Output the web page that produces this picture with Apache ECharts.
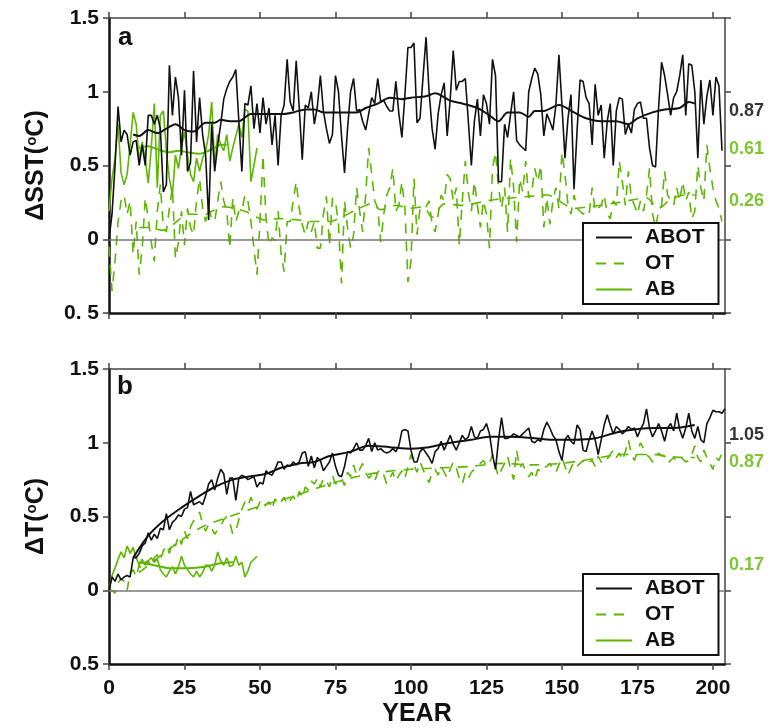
<!DOCTYPE html>
<html><head><meta charset="utf-8">
<script src="https://cdn.jsdelivr.net/npm/echarts@6/dist/echarts.min.js"></script>
<style>html,body{margin:0;padding:0;background:#fff}#c{width:773px;height:728px}</style>
</head><body><div id="c"></div>
<script>
// ---------- tick labels ----------
const xTicks = [0, 25, 50, 75, 100, 125, 150, 175, 200];
const yTicks = [-0.5, 0, 0.5, 1, 1.5];
const yTickLabelsA = ['0. 5', '0', '0.5', '1', '1.5'];
const yTickLabelsB = ['0.5', '0', '0.5', '1', '1.5'];
const seriesNames = ['ABOT', 'OT', 'AB'];

// ---------- panel a : ΔSST (annual values, year 0..) ----------
const abotA = [0.00,0.17,0.50,0.90,0.66,0.74,0.71,0.57,0.66,0.67,0.50,0.64,0.50,0.84,0.84,0.78,0.84,0.75,0.32,0.37,
1.18,0.84,1.10,0.96,0.57,1.01,0.46,0.52,1.14,0.66,0.96,0.71,0.57,0.13,0.78,0.46,0.64,0.78,0.95,1.02,
1.07,1.10,1.15,0.80,0.46,0.92,0.91,1.04,0.75,0.92,0.72,0.96,0.78,0.89,0.64,0.84,0.50,0.84,0.91,1.22,
0.93,0.87,1.21,0.89,0.54,0.91,0.89,1.00,0.78,0.90,1.11,0.87,0.75,0.65,0.71,1.11,1.00,0.70,0.45,0.75,
1.00,1.09,0.87,0.88,0.80,0.74,0.85,0.96,0.92,1.09,0.93,0.94,0.90,0.87,0.87,1.07,0.85,0.69,0.98,1.30,
1.30,1.33,0.79,0.82,1.10,1.37,1.00,0.75,0.61,0.85,0.98,1.06,0.70,0.95,1.28,1.01,1.07,1.07,1.09,0.80,
0.50,0.80,0.95,0.70,0.98,0.92,0.78,1.22,1.11,0.39,0.39,0.78,0.69,0.85,1.00,0.67,0.64,0.62,0.60,1.00,
1.09,1.16,1.12,0.98,0.70,0.85,0.80,0.74,0.91,1.25,0.91,0.55,0.82,0.98,0.34,0.73,1.08,1.07,0.96,0.92,
0.64,1.05,0.84,0.91,0.55,0.80,0.92,0.50,0.87,0.96,0.95,0.71,0.78,0.72,0.88,0.92,0.93,0.82,0.82,0.62,
0.50,0.49,0.89,1.20,1.11,0.98,0.84,0.96,1.00,1.11,1.25,0.84,1.19,1.18,1.00,0.55,1.08,0.78,0.97,1.08,
0.84,1.10,1.04,0.60];
const abotSmoothA = [[8,0.71],[10,0.70],[13,0.74],[16,0.72],[19,0.75],[22,0.78],[25,0.74],[28,0.73],[32,0.79],[35,0.79],
[37,0.81],[40,0.80],[43,0.80],[47,0.85],[50,0.85],[54,0.85],[58,0.85],[61,0.86],[65,0.88],[68,0.88],[71,0.86],[75,0.86],
[78,0.86],[82,0.86],[85,0.89],[89,0.92],[93,0.96],[97,0.95],[100,0.96],[105,0.97],[108,0.99],[113,0.94],[117,0.92],
[122,0.89],[126,0.84],[129,0.80],[132,0.86],[136,0.86],[139,0.83],[141,0.87],[144,0.87],[149,0.91],[154,0.86],[158,0.82],
[163,0.80],[168,0.80],[172,0.78],[175,0.82],[180,0.86],[184,0.88],[189,0.89],[192,0.93],[194,0.92]];
const otA = [-0.05,-0.35,-0.15,0.12,0.26,0.30,0.17,0.26,-0.10,0.12,-0.24,-0.06,0.28,0.14,-0.02,-0.15,0.19,0.37,0.08,0.05,
0.21,0.35,-0.13,-0.02,0.19,-0.04,0.21,0.08,0.03,0.27,0.41,0.21,0.12,0.21,0.14,0.12,0.26,0.39,0.26,0.19,
-0.06,0.28,0.12,0.19,0.19,0.30,0.26,0.12,-0.06,-0.24,0.12,0.57,0.14,-0.04,0.01,-0.01,0.19,-0.10,-0.22,0.12,
0.12,0.26,0.39,0.21,0.10,0.03,0.12,0.05,0.12,-0.06,-0.06,0.17,0.29,-0.04,0.28,0.26,0.10,-0.30,0.26,0.08,
-0.06,0.03,0.35,0.19,0.05,0.30,0.62,0.44,0.26,0.21,-0.02,0.17,0.30,0.35,0.48,0.19,0.23,0.39,0.21,-0.29,
-0.15,0.41,0.03,0.21,0.23,0.22,0.26,0.10,0.05,0.17,0.30,0.26,0.44,0.41,0.26,0.35,-0.04,0.26,0.53,0.32,
0.19,0.39,0.23,0.08,0.26,0.17,-0.06,0.48,0.59,0.35,0.21,0.35,0.05,0.55,0.35,-0.02,0.41,0.32,0.53,0.28,
0.32,0.48,0.39,0.50,0.08,0.28,0.10,0.26,0.35,0.21,0.59,0.44,0.23,0.17,0.30,0.21,0.19,0.17,0.19,0.17,
0.35,0.19,0.21,0.23,0.30,0.17,0.14,0.26,0.23,0.53,0.39,0.23,0.46,0.28,0.23,0.17,0.26,0.19,0.30,0.48,
0.17,0.08,0.19,0.23,0.46,0.30,0.26,0.23,0.35,0.26,0.39,0.26,0.32,0.14,0.19,0.50,0.35,0.26,0.64,0.48,
0.35,0.26,0.21,0.12];
const otSmoothA = [[10,0.08],[13,0.08],[18,0.06],[23,0.13],[26,0.17],[32,0.17],[34,0.19],[38,0.22],[45,0.19],[47,0.17],
[52,0.13],[56,0.14],[63,0.13],[67,0.12],[73,0.12],[77,0.15],[82,0.20],[87,0.24],[90,0.20],[95,0.23],[100,0.21],[104,0.22],
[107,0.15],[111,0.24],[117,0.23],[125,0.26],[128,0.27],[133,0.28],[139,0.29],[145,0.30],[154,0.21],[159,0.22],[163,0.23],
[169,0.25],[178,0.28],[182,0.21],[186,0.27],[191,0.30],[194,0.30]];
const abA = [0.19,0.41,0.55,0.78,0.45,0.37,0.44,0.64,0.86,0.78,0.53,0.66,0.54,0.38,0.62,0.92,0.35,0.84,0.87,0.60,
0.41,0.30,0.57,0.48,0.62,0.73,0.57,0.44,0.39,0.55,0.46,0.55,0.60,0.71,0.93,0.50,0.71,0.64,0.60,0.71,
0.53,0.62,0.70,0.78,0.69,0.88,0.87,0.39,0.50,0.62];
const abSmoothA = [[10,0.62],[13,0.63],[16,0.61],[20,0.59],[23,0.60],[26,0.59],[30,0.58],[33,0.60],[35,0.62],[37,0.64],[39,0.64]];
const meanA = [0.87, 0.61, 0.26];           // ABOT, AB, OT

// ---------- panel b : ΔT ----------
const abotB = [0.00,0.09,0.06,0.11,0.07,0.09,0.10,0.09,0.22,0.22,0.25,0.30,0.32,0.39,0.34,0.38,0.35,0.42,0.41,0.52,
0.41,0.46,0.48,0.51,0.50,0.55,0.56,0.67,0.58,0.59,0.60,0.58,0.64,0.72,0.75,0.68,0.76,0.82,0.79,0.65,
0.76,0.76,0.61,0.76,0.78,0.77,0.75,0.76,0.77,0.70,0.73,0.72,0.81,0.79,0.78,0.82,0.87,0.87,0.82,0.85,
0.84,0.87,0.85,0.87,0.93,0.94,0.84,0.91,0.83,0.90,0.88,0.81,0.84,0.87,0.93,0.84,0.78,0.77,0.84,0.94,
0.93,0.96,1.00,0.95,0.95,0.98,1.03,0.94,1.00,0.95,0.96,0.94,0.93,0.94,0.96,0.94,0.98,1.08,1.09,1.08,
0.95,0.87,0.87,0.94,0.96,0.93,0.90,0.86,0.94,0.96,1.01,0.95,1.00,1.05,0.99,0.95,1.00,1.05,1.02,1.04,
1.11,1.04,1.03,1.08,1.09,1.13,1.06,0.92,0.82,1.02,1.17,1.03,1.03,1.04,1.06,1.05,1.04,1.06,1.08,1.10,
1.01,1.00,1.02,1.01,1.09,1.14,1.10,1.05,1.02,0.94,0.88,1.02,1.05,1.01,0.99,1.12,1.09,0.95,0.94,1.02,
1.08,1.02,0.92,1.02,1.12,1.19,1.12,1.06,1.11,1.09,1.06,1.08,1.11,1.09,1.10,1.04,1.09,1.13,1.23,1.10,
1.04,1.08,1.13,1.08,1.01,1.10,1.13,1.08,1.20,1.09,1.03,1.10,1.20,1.08,1.03,1.11,1.02,1.00,1.13,1.17,
1.22,1.21,1.21,1.20,1.23];
const abotSmoothB = [[8,0.22],[13,0.37],[18,0.47],[24,0.56],[30,0.64],[35,0.70],[41,0.75],[46,0.77],[52,0.79],[57,0.83],
[63,0.86],[68,0.87],[73,0.91],[80,0.94],[86,0.98],[93,0.97],[100,0.96],[106,0.97],[113,1.00],[120,1.02],[126,1.04],
[133,1.04],[141,1.03],[148,1.02],[154,1.02],[161,1.03],[168,1.07],[174,1.09],[181,1.10],[187,1.10],[194,1.12]];
const otB = [0.00,0.00,-0.02,0.05,0.08,0.06,0.00,0.12,0.14,0.09,0.17,0.14,0.19,0.20,0.16,0.22,0.24,0.20,0.27,0.30,
0.25,0.33,0.30,0.37,0.31,0.40,0.35,0.43,0.47,0.50,0.53,0.45,0.40,0.45,0.42,0.38,0.41,0.43,0.48,0.50,
0.46,0.38,0.40,0.48,0.55,0.60,0.57,0.63,0.58,0.55,0.60,0.56,0.58,0.60,0.55,0.62,0.58,0.60,0.63,0.58,
0.61,0.64,0.60,0.67,0.63,0.70,0.68,0.74,0.72,0.76,0.70,0.76,0.74,0.70,0.78,0.72,0.74,0.76,0.71,0.80,
0.77,0.85,0.78,0.82,0.86,0.80,0.76,0.78,0.74,0.80,0.82,0.78,0.72,0.76,0.80,0.74,0.78,0.81,0.76,0.84,
0.92,0.85,0.80,0.87,0.82,0.77,0.73,0.80,0.82,0.78,0.84,0.80,0.76,0.82,0.87,0.83,0.76,0.72,0.80,0.76,
0.80,0.82,0.83,0.86,0.88,0.84,0.86,0.92,0.84,0.77,0.82,0.86,0.91,0.82,0.75,0.95,0.83,0.86,0.80,0.77,
0.80,0.75,0.82,0.80,0.83,0.84,0.86,0.82,0.80,0.85,0.90,0.84,0.78,0.83,0.87,0.84,0.86,0.88,0.85,0.87,
0.88,0.84,0.91,0.87,0.86,0.89,0.92,0.95,0.90,0.93,0.88,0.94,1.02,0.92,0.88,0.94,1.00,0.96,0.92,0.90,
0.87,0.90,0.93,0.91,0.91,0.86,0.88,0.90,0.88,0.91,0.89,0.87,0.88,0.92,0.98,0.90,0.87,0.95,0.90,0.86,
0.82,0.90,0.88,0.93];
const otSmoothB = [[10,0.12],[20,0.28],[30,0.42],[40,0.50],[50,0.57],[60,0.63],[70,0.70],[80,0.76],[90,0.80],[100,0.82],
[110,0.83],[120,0.84],[130,0.86],[140,0.85],[150,0.86],[160,0.89],[170,0.92],[180,0.92],[190,0.90],[194,0.90]];
const abB = [0.00,0.10,0.15,0.21,0.26,0.22,0.30,0.25,0.29,0.22,0.17,0.21,0.17,0.20,0.22,0.19,0.21,0.14,0.11,0.09,
0.13,0.16,0.11,0.16,0.23,0.17,0.14,0.11,0.09,0.13,0.09,0.12,0.17,0.17,0.13,0.17,0.26,0.20,0.17,0.22,
0.16,0.17,0.23,0.17,0.19,0.09,0.13,0.19,0.21,0.23];
const abSmoothB = [[10,0.19],[15,0.17],[20,0.15],[26,0.15],[32,0.16],[36,0.18],[41,0.19]];
const meanB = [1.05, 0.87, 0.17];           // ABOT, OT, AB

// ---------- styling ----------
const FONT = '"Liberation Sans", Arial, sans-serif';
const BLACK = '#111111';
const TXT = '#111111';
const GREEN = '#5db600';
const XMAX = 204;

const annual = arr => arr.map((v, i) => [i, v]);

function gridAxes(gi, showX) {
  return [
    { type: 'value', gridIndex: gi, position: 'bottom', min: 0, max: XMAX,
      axisLine: { onZero: false, lineStyle: { color: BLACK, width: 2.5 } },
      axisTick: { show: true, inside: false, length: 6, customValues: xTicks, lineStyle: { color: '#444', width: 1.5 } },
      axisLabel: { show: showX, customValues: xTicks, margin: 14, fontSize: 21, fontWeight: 'bold', color: TXT, fontFamily: FONT },
      splitLine: { show: false },
      name: showX ? 'YEAR' : '', nameLocation: 'middle', nameGap: 38,
      nameTextStyle: { fontSize: 25, fontWeight: 'bold', color: TXT, fontFamily: FONT } },
    { type: 'value', gridIndex: gi, position: 'top', min: 0, max: XMAX,
      axisLine: { onZero: false, lineStyle: { color: '#444', width: 1.5 } },
      axisTick: { show: true, inside: false, length: 6, customValues: xTicks, lineStyle: { color: '#444', width: 1.5 } },
      axisLabel: { show: false }, splitLine: { show: false } }
  ];
}
function gridYAxes(gi, labels, nameRich) {
  return [
    { type: 'value', gridIndex: gi, position: 'left', min: -0.5, max: 1.5, interval: 0.5,
      axisLine: { show: true, onZero: false, lineStyle: { color: BLACK, width: 2.5 } },
      axisTick: { show: true, inside: false, length: 6, lineStyle: { color: '#444', width: 1.5 } },
      axisLabel: { margin: 10, fontSize: 21, fontWeight: 'bold', color: TXT, fontFamily: FONT,
        formatter: v => { const k = yTicks.findIndex(t => Math.abs(t - v) < 1e-6); return k >= 0 ? labels[k] : ''; } },
      splitLine: { show: false },
      name: nameRich, nameLocation: 'middle', nameGap: 60, nameRotate: 90,
      nameTextStyle: { fontFamily: FONT, rich: {
        t: { fontSize: 25, fontWeight: 'bold', color: TXT, fontFamily: FONT },
        s: { fontSize: 15, fontWeight: 'bold', color: TXT, fontFamily: FONT, verticalAlign: 'top' } } } },
    { type: 'value', gridIndex: gi, position: 'right', min: -0.5, max: 1.5, interval: 0.5,
      axisLine: { show: true, onZero: false, lineStyle: { color: '#444', width: 1.5 } },
      axisTick: { show: true, inside: false, length: 6, lineStyle: { color: '#444', width: 1.5 } },
      axisLabel: { show: false }, splitLine: { show: false } }
  ];
}

function lineSeries(name, data, xi, yi, color, dashed, width, smooth, z) {
  return { type: 'line', name, data, xAxisIndex: xi, yAxisIndex: yi, symbol: 'none', smooth: smooth,
    lineStyle: { color, width, type: dashed ? [10, 8] : 'solid' }, itemStyle: { color }, z: z || 2,
    silent: true, animation: false };
}
function meanSeries(values, colors, xi, yi) {
  return { type: 'scatter', name: 'mean', xAxisIndex: xi, yAxisIndex: yi, clip: false, symbolSize: 0, silent: true,
    data: values.map((v, i) => ({ value: [XMAX, v], label: { color: colors[i] } })),
    label: { show: true, position: 'right', distance: 4, fontSize: 18, fontWeight: 'bold', fontFamily: FONT,
      formatter: p => p.value[1].toFixed(2) } };
}

const zeroLine = { silent: true, symbol: 'none', label: { show: false },
  lineStyle: { color: '#777', width: 1.5, type: 'solid' }, data: [{ yAxis: 0 }] };

const series = [];
// panel a
const sOTa = lineSeries('OT', annual(otA), 0, 0, GREEN, true, 1.6, false, 2);
sOTa.markLine = zeroLine;
series.push(sOTa);
series.push(lineSeries('OT', otSmoothA, 0, 0, GREEN, true, 1.6, 0.3, 2));
series.push(lineSeries('AB', annual(abA), 0, 0, GREEN, false, 1.6, false, 3));
series.push(lineSeries('AB', abSmoothA, 0, 0, GREEN, false, 2, 0.3, 3));
series.push(lineSeries('ABOT', annual(abotA), 0, 0, BLACK, false, 1.6, false, 4));
series.push(lineSeries('ABOT', abotSmoothA, 0, 0, BLACK, false, 2, 0.3, 4));
series.push(meanSeries(meanA, ['#000', GREEN, GREEN], 0, 0));
// panel b
const sOTb = lineSeries('OT', annual(otB), 2, 2, GREEN, true, 1.6, false, 2);
sOTb.markLine = zeroLine;
series.push(sOTb);
series.push(lineSeries('OT', otSmoothB, 2, 2, GREEN, true, 1.6, 0.3, 2));
series.push(lineSeries('AB', annual(abB), 2, 2, GREEN, false, 1.6, false, 3));
series.push(lineSeries('AB', abSmoothB, 2, 2, GREEN, false, 2, 0.3, 3));
series.push(lineSeries('ABOT', annual(abotB), 2, 2, BLACK, false, 1.6, false, 4));
series.push(lineSeries('ABOT', abotSmoothB, 2, 2, BLACK, false, 2, 0.3, 4));
series.push(meanSeries(meanB, ['#000', GREEN, GREEN], 2, 2));

function legendAt(top) {
  return { data: seriesNames, orient: 'vertical', left: 583, top: top, padding: [4, 14, 4, 12],
    itemWidth: 36, itemHeight: 20, itemGap: 5, borderColor: BLACK, borderWidth: 2, backgroundColor: '#fff',
    selectedMode: false, itemStyle: { opacity: 0 }, z: 10,
    textStyle: { fontSize: 21, fontWeight: 'bold', color: TXT, fontFamily: FONT, padding: [0, 0, 0, 8] } };
}

const chart = echarts.init(document.getElementById('c'), null, { renderer: 'canvas' });
chart.setOption({
  animation: false,
  backgroundColor: '#fff',
  grid: [
    { left: 109, top: 18, width: 616, height: 295 },
    { left: 109, top: 369, width: 616, height: 296 }
  ],
  xAxis: [...gridAxes(0, false), ...gridAxes(1, true)],
  yAxis: [...gridYAxes(0, yTickLabelsA, '{t|ΔSST(}{s|o}{t|C)}'), ...gridYAxes(1, yTickLabelsB, '{t|ΔT(}{s|o}{t|C)}')],
  legend: [legendAt(223), legendAt(574)],
  graphic: [
    { type: 'text', left: 118, top: 25, style: { text: 'a', font: 'bold 26px ' + FONT, fill: TXT } },
    { type: 'text', left: 117, top: 374, style: { text: 'b', font: 'bold 26px ' + FONT, fill: TXT } }
  ],
  series
});
</script>
</body></html>
